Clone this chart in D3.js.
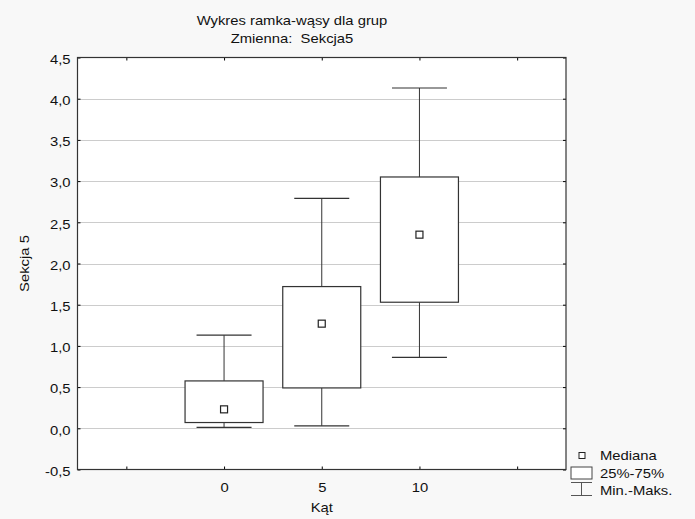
<!DOCTYPE html>
<html>
<head>
<meta charset="utf-8">
<script src="https://cdn.jsdelivr.net/npm/d3@7"></script>
<style>
  body { margin: 0; background: #f8f8f8; }
  text { font-family: "Liberation Sans", Arial, sans-serif; fill: #111; font-size: 13px; }
</style>
</head>
<body>
<div id="chart"></div>
<script>
// Group data
const groups = [0, 5, 10];
const mins = [0.012, 0.03, 0.86];
const q1s = [0.07, 0.49, 1.53];
const medians = [0.23, 1.27, 2.35];
const q3s = [0.575, 1.72, 3.05];
const maxs = [1.13, 2.79, 4.13];
const yTicks = [-0.5, 0, 0.5, 1, 1.5, 2, 2.5, 3, 3.5, 4, 4.5];
const xTicks = [-5, 0, 5, 10, 15];

const width = 695, height = 519;
const plot = { left: 77.5, right: 566, top: 57.5, bottom: 469.5 };
const sx = 1.14; // the original font is a bit wider than Liberation Sans

const svg = d3.select("#chart").append("svg")
    .attr("width", width).attr("height", height);

const x = d3.scaleLinear().domain([-7.5, 17.5]).range([plot.left, plot.right]);
const y = d3.scaleLinear().domain([-0.5, 4.5]).range([plot.bottom, plot.top]);

// text helper, stretched horizontally
function label(px, py, str, anchor, rot) {
  return svg.append("text")
      .attr("transform", `translate(${px},${py})${rot ? " rotate(" + rot + ")" : ""} scale(${sx},1)`)
      .attr("text-anchor", anchor || "start")
      .text(str);
}

// plot background
svg.append("rect")
    .attr("x", plot.left).attr("y", plot.top)
    .attr("width", plot.right - plot.left).attr("height", plot.bottom - plot.top)
    .attr("fill", "#fff");

// dotted grid lines
svg.selectAll(".grid")
    .data(yTicks.filter(d => d > -0.5 && d < 4.5))
    .enter().append("line")
    .attr("x1", plot.left).attr("x2", plot.right)
    .attr("y1", d => Math.round(y(d)) + 0.5).attr("y2", d => Math.round(y(d)) + 0.5)
    .attr("stroke", "#999")
    .attr("stroke-dasharray", "1,1");

// axes (ticks pointing inward)
const fmt = d => d3.format(".1f")(d).replace(".", ",").replace("\u2212", "-");
svg.append("g")
    .attr("transform", `translate(${plot.left},0)`)
    .call(d3.axisLeft(y).tickValues(yTicks).tickFormat(fmt).tickSizeInner(-3).tickSizeOuter(0))
    .call(g => g.select(".domain").remove())
    .call(g => g.selectAll("text")
        .attr("x", -7 / sx).attr("dy", "0.45em")
        .attr("transform", `scale(${sx},1)`));

svg.append("g")
    .attr("transform", `translate(${plot.right},0)`)
    .call(d3.axisRight(y).tickValues(yTicks).tickFormat("").tickSizeInner(-3).tickSizeOuter(0))
    .call(g => g.select(".domain").remove());

svg.append("g")
    .attr("transform", `translate(0,${plot.bottom})`)
    .call(d3.axisBottom(x).tickValues(xTicks).tickFormat(d => groups.includes(d) ? d : "")
        .tickSizeInner(-3).tickSizeOuter(0).tickPadding(13))
    .call(g => g.select(".domain").remove())
    .call(g => g.selectAll("text").attr("transform", `scale(${sx},1)`));

svg.append("g")
    .attr("transform", `translate(0,${plot.top})`)
    .call(d3.axisTop(x).tickValues(xTicks).tickFormat("").tickSizeInner(-3).tickSizeOuter(0))
    .call(g => g.select(".domain").remove());

// frame
svg.append("rect")
    .attr("x", plot.left).attr("y", plot.top)
    .attr("width", plot.right - plot.left).attr("height", plot.bottom - plot.top)
    .attr("fill", "none").attr("stroke", "#333").attr("stroke-width", 1.2);

// boxes
const boxW = 78, capW = 55, medS = 7;
const stroke = "#333";
groups.forEach((g, i) => {
  const cx = x(g);
  const b = svg.append("g");
  b.append("line")
      .attr("x1", cx).attr("x2", cx)
      .attr("y1", y(maxs[i])).attr("y2", y(q3s[i]))
      .attr("stroke", stroke);
  b.append("line")
      .attr("x1", cx).attr("x2", cx)
      .attr("y1", y(q1s[i])).attr("y2", y(mins[i]))
      .attr("stroke", stroke);
  [maxs[i], mins[i]].forEach(v => {
    b.append("line")
        .attr("x1", cx - capW / 2).attr("x2", cx + capW / 2)
        .attr("y1", y(v)).attr("y2", y(v))
        .attr("stroke", stroke).attr("stroke-width", 1.2);
  });
  b.append("rect")
      .attr("x", cx - boxW / 2).attr("y", y(q3s[i]))
      .attr("width", boxW).attr("height", y(q1s[i]) - y(q3s[i]))
      .attr("fill", "#fff").attr("stroke", stroke).attr("stroke-width", 1.2);
  b.append("rect")
      .attr("x", cx - medS / 2).attr("y", y(medians[i]) - medS / 2)
      .attr("width", medS).attr("height", medS)
      .attr("fill", "#fff").attr("stroke", "#222").attr("stroke-width", 1.2);
});

// titles
label(292, 25, "Wykres ramka-wąsy dla grup", "middle");
label(292, 43, "Zmienna:  Sekcja5", "middle").style("white-space", "pre");
label((plot.left + plot.right) / 2, 512, "Kąt", "middle");
label(29, (plot.top + plot.bottom) / 2, "Sekcja 5", "middle", -90);

// legend
svg.append("rect").attr("x", 579).attr("y", 452.5).attr("width", 6).attr("height", 6)
    .attr("fill", "#fff").attr("stroke", "#222");
label(600, 460, "Mediana");
svg.append("rect").attr("x", 571).attr("y", 467).attr("width", 21).attr("height", 12)
    .attr("fill", "#fff").attr("stroke", "#444");
label(600, 478, "25%-75%");
svg.append("line").attr("x1", 571).attr("x2", 592).attr("y1", 482.5).attr("y2", 482.5).attr("stroke", "#555");
svg.append("line").attr("x1", 571).attr("x2", 592).attr("y1", 495.5).attr("y2", 495.5).attr("stroke", "#555");
svg.append("line").attr("x1", 581.5).attr("x2", 581.5).attr("y1", 482.5).attr("y2", 495.5).attr("stroke", "#555");
label(600, 494.5, "Min.-Maks.");
</script>
</body>
</html>
